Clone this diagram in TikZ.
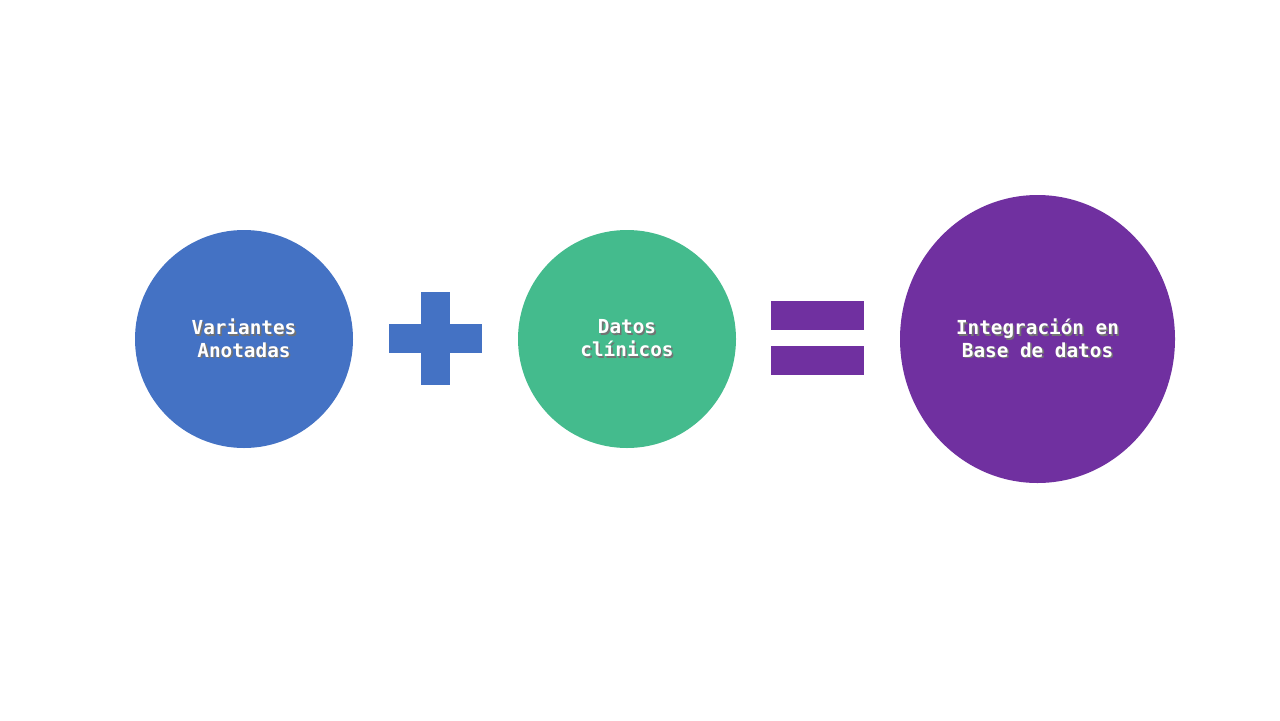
\documentclass[tikz,border=0pt]{standalone}
\usepackage{fontspec}
\setmonofont{DejaVu Sans Mono}
\usetikzlibrary{shapes.geometric}
\definecolor{varblue}{HTML}{4472C4}
\definecolor{clingreen}{HTML}{44BB8D}
\definecolor{dbpurple}{HTML}{7030A0}
\newcommand{\shtxt}[1]{\makebox[0pt][l]{\raisebox{-0.9pt}{\hspace{0.9pt}\color{black!55}#1}}\textcolor{white}{#1}}
\tikzset{
  disc/.style = {circle, draw = none, minimum size = 218*0.02cm, inner sep = 0pt},
  disctext/.style = {align = center, font = \ttfamily\bfseries\fontsize{11}{13}\selectfont},
  sign/.style = {draw = none}
}
\begin{document}
\begin{tikzpicture}[x = 0.02cm, y = -0.02cm]
\useasboundingbox[fill = white] (0,0) rectangle (1280,720);
% circles
\node[disc, fill = varblue] (var) at (244,339) {};
\node[disc, fill = clingreen] (clin) at (627,339) {};
\node[ellipse, fill = dbpurple, minimum width = 275*0.02cm, minimum height = 288*0.02cm, inner sep = 0pt] (db) at (1037.5,339) {};
% texts
\node[disctext] at (var) {\shtxt{Variantes}\\\shtxt{Anotadas}};
\node[disctext] at (clin) {\shtxt{Datos}\\\shtxt{clínicos}};
\node[disctext] at (db) {\shtxt{Integración en}\\\shtxt{Base de datos}};
% plus
\fill[varblue] (389,324) rectangle (482,353);
\fill[varblue] (421,292) rectangle (450,385);
% equals
\fill[dbpurple] (771,301) rectangle (864,330);
\fill[dbpurple] (771,346) rectangle (864,375);
\end{tikzpicture}
\end{document}
